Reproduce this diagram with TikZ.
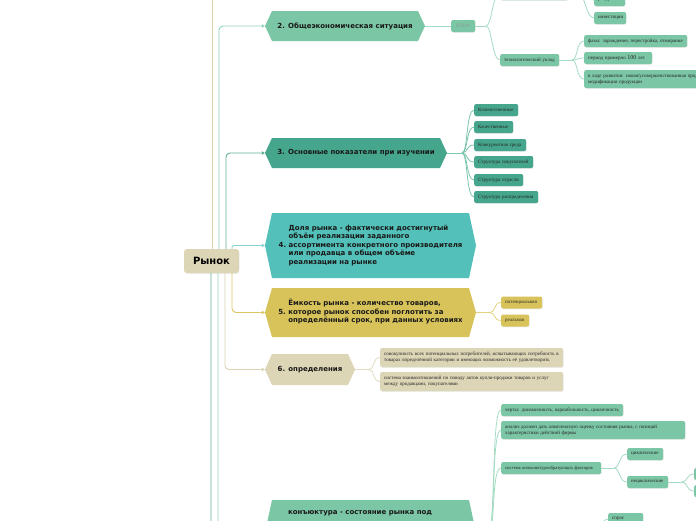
\documentclass[tikz,border=0pt]{standalone}
\usepackage{fontspec}
\setmainfont{DejaVu Sans}
\newfontfamily\lser{Liberation Serif}
\usetikzlibrary{arrows.meta,shadows}
\definecolor{cG}{HTML}{7BC6A4}
\definecolor{cD}{HTML}{46A68D}
\definecolor{cT}{HTML}{53C0B9}
\definecolor{cY}{HTML}{D8C35B}
\definecolor{cB}{HTML}{DCD5B6}
\definecolor{lG}{HTML}{8ED3B4}
\definecolor{lD}{HTML}{5FAE99}
\definecolor{lT}{HTML}{86D4CF}
\definecolor{lY}{HTML}{DCC664}
\definecolor{lB}{HTML}{DAD2B0}
\definecolor{sG}{HTML}{A6DCC4}
\definecolor{sD}{HTML}{7CC5AE}
\definecolor{sY}{HTML}{E3D27E}
\definecolor{sB}{HTML}{E2DCC3}
\definecolor{essaytext}{HTML}{8A9E95}
\newcommand\brc[3]{\draw[sc=#1] (#2) .. controls +(6,0) and +(-8,0) .. (#3.west);}
\begin{document}
\begin{tikzpicture}[x=1pt,y=-1pt,
  hex/.style={rectangle, inner sep=0pt, fill=white, text=black!90,
    font=\bfseries\fontsize{7}{8.5}\selectfont, align=left,
    path picture={\fill[#1] (path picture bounding box.west)
      -- ([xshift=7pt]path picture bounding box.north west)
      -- ([xshift=-7pt]path picture bounding box.north east)
      -- (path picture bounding box.east)
      -- ([xshift=-7pt]path picture bounding box.south east)
      -- ([xshift=7pt]path picture bounding box.south west) -- cycle;}},
  sub/.style={rectangle, rounded corners=2pt, fill=#1, anchor=west,
    inner xsep=4pt, inner ysep=0pt, minimum height=12pt,
    font=\lser\fontsize{5}{6}\selectfont, align=left, text=black!85,
    drop shadow={shadow xshift=0.4pt, shadow yshift=-0.8pt, opacity=0.15}},
  mc/.style={draw=#1, line width=0.9pt, rounded corners=4pt,
    -{Triangle[length=3pt,width=3.5pt]}},
  sc/.style={draw=#1, line width=0.8pt},
]
\useasboundingbox (0,0) rectangle (696,520);
\fill[white] (0,0) rectangle (696,520);
\clip (0,0) rectangle (696,520);

% root
\node[fill=cB, rounded corners=3pt, minimum width=55pt, minimum height=24pt,
  inner sep=0pt, font=\bfseries\fontsize{10}{12}\selectfont,
  drop shadow={shadow xshift=0.4pt, shadow yshift=-0.8pt, opacity=0.15}]
  (rynok) at (211.5,261) {Рынок};

% main branches
\node[hex=cG, minimum width=160pt, minimum height=30pt] (n2) at (345,26)
  {2. Общеэкономическая ситуация};
\node[hex=cD, minimum width=182pt, minimum height=30pt] (n3) at (356,153)
  {3. Основные показатели при изучении};
\node[hex=cT, minimum width=211pt, minimum height=65pt] (n4) at (370.5,245.5)
  {4.\hspace{2.5pt}\begin{tabular}{@{}l@{}}Доля рынка - фактически достигнутый\\объём реализации заданного\\ассортимента конкретного производителя\\или продавца в общем объёме\\реализации на рынке\end{tabular}};
\node[hex=cY, minimum width=211pt, minimum height=49pt] (n5) at (370.5,312.5)
  {5.\hspace{2.5pt}\begin{tabular}{@{}l@{}}Ёмкость рынка - количество товаров,\\которое рынок способен поглотить за\\определённый срок, при данных условиях\end{tabular}};
\node[hex=cB, minimum width=90pt, minimum height=31pt] (n6) at (310,369.5)
  {6. определения};
\node[hex=cG, minimum width=211pt, minimum height=65pt] (n7) at (370.5,532.5)
  {\parbox[c][65pt][t]{165pt}{\vspace*{11pt}конъюктура - состояние рынка под}};

\coordinate (top1) at (212,-30);
\coordinate (n8) at (265,600);

% main connectors
\draw[mc=lB, -] ([xshift=0.5pt]rynok.north) -- (top1);
\draw[mc=lG] ([xshift=7.5pt]rynok.north) |- (n2.west);
\draw[mc=lD] ([xshift=14.5pt]rynok.north) |- (n3.west);
\draw[mc=lT, rounded corners=1.5pt] ([xshift=20.5pt]rynok.north) |- (n4.west);
\draw[mc=lY] ([xshift=20.5pt]rynok.south) |- (n5.west);
\draw[mc=lB] ([xshift=13.5pt]rynok.south) |- (n6.west);
\draw[mc=lG] ([xshift=6.5pt]rynok.south) |- (n7.west);
\draw[mc=lD] ([xshift=-0.5pt]rynok.south) |- (n8);

% ---- branch 2
\node[sub=cG, minimum width=24pt, inner xsep=2pt, font=\fontsize{4.6}{5}\selectfont,
  text=essaytext] (essay) at (451,26) {ESSAY};
\node[sub=cG, minimum width=68pt] (t2) at (500,-6) {};
\node[sub=cG, text width=23pt] (c21) at (594,0) {ресурсы};
\node[sub=cG, text width=24pt] (c22) at (594,18) {инвестиции};
\node[sub=cG, text width=51pt] (tu) at (500,60) {технологический уклад};
\node[sub=cG, text width=95pt] (tu1) at (584,41) {фазы: зарождение, перестройка, отмирание};
\node[sub=cG, text width=60pt] (tu2) at (584,58) {период примерно {\fontsize{6}{6}\selectfont 100} лет};
\node[sub=cG, text width=150pt, minimum height=18pt] (tu3) at (584,79)
  {в ходе развития: новая/усовершенствованная продукция, новые\\модификации продукции};

\draw[sc=sG] (n2.east) -- (essay.west);
\coordinate (f2) at (486,26);
\draw[sc=sG] (essay.east) -- (f2);
\brc{sG}{f2}{t2}
\brc{sG}{f2}{tu}
\coordinate (ft2) at (579,-6);
\draw[sc=sG] (t2.east) -- (ft2);
\brc{sG}{ft2}{c21}
\brc{sG}{ft2}{c22}
\coordinate (ftu) at (572,60);
\draw[sc=sG] (tu.east) -- (ftu);
\brc{sG}{ftu}{tu1}
\brc{sG}{ftu}{tu2}
\brc{sG}{ftu}{tu3}

% ---- branch 3
\node[sub=cD, text width=36pt] (q1) at (474,110) {Количественные};
\node[sub=cD, text width=31pt] (q2) at (474,127) {Качественные};
\node[sub=cD, text width=44pt] (q3) at (474,145) {Конкурентная среда};
\node[sub=cD, text width=51pt] (q4) at (474,162) {Структура покупателей};
\node[sub=cD, text width=41pt] (q5) at (474,180) {Структура отрасли};
\node[sub=cD, text width=56pt] (q6) at (474,197) {Структура распределения};
\coordinate (f3) at (462,153);
\draw[sc=sD] (n3.east) -- (f3);
\foreach \q in {q1,q2,q3,q4,q5,q6} {\brc{sD}{f3}{\q}}

% ---- branch 5
\node[sub=cY, text width=33pt] (y1) at (501,302.5) {потенциальная};
\node[sub=cY, text width=20pt] (y2) at (501,320.5) {реальная};
\coordinate (f5) at (490,312.5);
\draw[sc=sY] (n5.east) -- (f5);
\brc{sY}{f5}{y1}
\brc{sY}{f5}{y2}

% ---- branch 6
\node[sub=cB, text width=175pt, minimum height=19pt] (d1) at (380,357.5)
  {совокупность всех потенциальных потребителей, испытывающих потребность в\\товарах определённой категории и имеющих возможность её удовлетворить};
\node[sub=cB, text width=175pt, minimum height=19pt] (d2) at (380,381.5)
  {система взаимоотношений по поводу актов купли-продажи товаров и услуг\\между продавцами, покупателями};
\coordinate (f6) at (369,369.5);
\draw[sc=sB] (n6.east) -- (f6);
\brc{sB}{f6}{d1}
\brc{sB}{f6}{d2}

% ---- branch 7
\node[sub=cG, text width=114pt] (k1) at (501,410) {черты: динамичность, вариабельность, цикличность};
\node[sub=cG, text width=176pt, minimum height=18pt] (k2) at (501,430)
  {анализ должен дать комплексную оценку состояния рынка, с позиций\\характеристики действий фирмы};
\node[sub=cG, text width=92pt, font=\lser\fontsize{4.6}{6}\selectfont] (k3) at (501,468) {система конъюнктурообразующих факторов};
\node[sub=cG, text width=28pt] (k31) at (627,454) {циклические};
\node[sub=cG, text width=33pt] (k32) at (627,482) {нециклические};
\node[sub=cG, minimum width=30pt] (k321) at (694,474) {};
\node[sub=cG, minimum width=30pt] (k322) at (694,491) {};
\node[sub=cG, text width=27pt] (kb) at (608,519) {спрос};
\coordinate (f7) at (488,532.5);
\draw[sc=sG] (n7.east) -- (f7);
\draw[sc=sG] (f7) .. controls +(8,0) and +(-10,0) .. (k1.west);
\draw[sc=sG] (f7) .. controls +(8,0) and +(-10,0) .. (k2.west);
\draw[sc=sG] (f7) .. controls +(8,0) and +(-10,0) .. (k3.west);
\coordinate (fk3) at (614,468);
\draw[sc=sG] (k3.east) -- (fk3);
\brc{sG}{fk3}{k31}
\brc{sG}{fk3}{k32}
\coordinate (fk32) at (682,482);
\draw[sc=sG] (k32.east) -- (fk32);
\brc{sG}{fk32}{k321}
\brc{sG}{fk32}{k322}
\coordinate (fkb) at (590,540);
\brc{sG}{fkb}{kb}
\end{tikzpicture}
\end{document}
